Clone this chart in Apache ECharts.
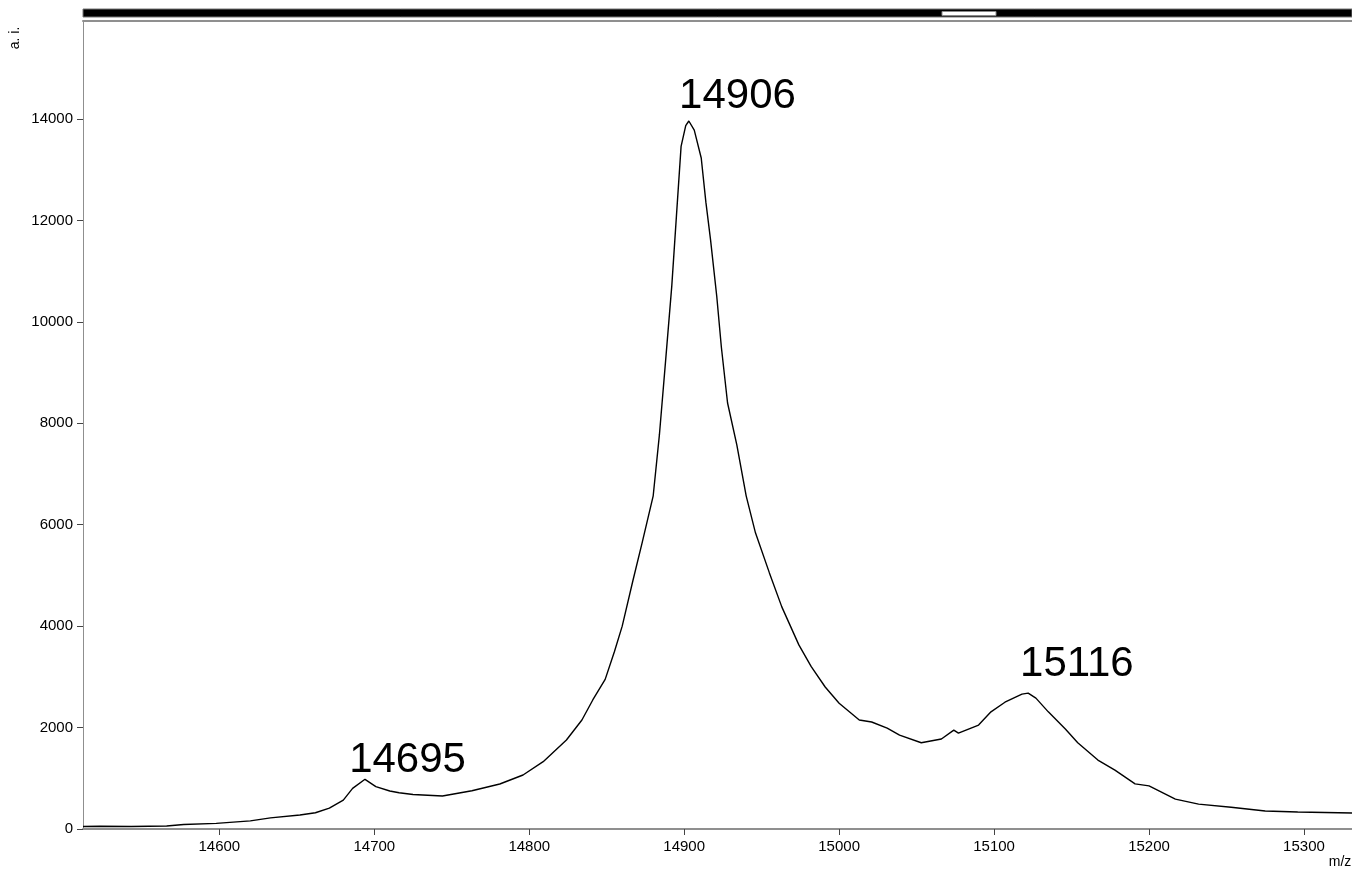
<!DOCTYPE html>
<html>
<head>
<meta charset="utf-8">
<script src="https://cdn.jsdelivr.net/npm/echarts@6/dist/echarts.min.js"></script>
<style>
  html, body { margin: 0; padding: 0; background: #fff; }
  #chart { width: 1352px; height: 873px; }
</style>
</head>
<body>
<div id="chart"></div>
<script>
// spectrum trace (m/z, intensity a.i.)
const mz = [
  14512, 14523, 14543, 14566, 14577, 14598, 14620, 14633, 14652, 14662,
  14671, 14680, 14686, 14694, 14701, 14710, 14716, 14725, 14744, 14763,
  14781, 14796, 14809, 14824, 14834, 14841, 14849, 14855, 14860, 14867,
  14873, 14880, 14884, 14888, 14892, 14895, 14898, 14901, 14903, 14906.5,
  14911, 14914, 14917, 14921, 14924, 14928, 14934, 14940, 14946, 14955,
  14963, 14974, 14982, 14991, 15000, 15013, 15021, 15031, 15039, 15053,
  15066, 15074, 15077, 15090, 15098, 15107, 15118, 15122, 15127, 15135,
  15146, 15154, 15167, 15178, 15191, 15200, 15217, 15232, 15253, 15275,
  15296, 15331
];
const intensity = [
  50, 55, 50, 60, 90, 110, 160, 220, 275, 320,
  410, 570, 800, 980, 835, 750, 715, 680, 650, 755,
  887, 1065, 1327, 1755, 2150, 2544, 2950, 3500, 4000, 4910,
  5660, 6570, 7770, 9230, 10710, 12090, 13460, 13870, 13960, 13780,
  13230, 12360, 11620, 10510, 9500, 8400, 7570, 6570, 5840, 5050,
  4380, 3630, 3200, 2800, 2480, 2150, 2110, 1990, 1850, 1700,
  1775, 1950, 1890, 2050, 2310, 2500, 2660, 2680, 2580, 2310,
  1970, 1700, 1360, 1160, 890, 850, 590, 490, 430, 355,
  335, 315
];

const peakMz = [14695, 14906, 15116];
const peakIntensity = [980, 13960, 2680];
const peakNames = ["14695", "14906", "15116"];

const xTicks = [14600, 14700, 14800, 14900, 15000, 15100, 15200, 15300];
const yTicks = [0, 2000, 4000, 6000, 8000, 10000, 12000, 14000];

const chart = echarts.init(document.getElementById("chart"));

const axisGray = "#8f8f8f";
const font = "Liberation Sans";

const labelOffsets = [[41, 2], [44, -4], [58, -8]];

const option = {
  animation: false,
  backgroundColor: "#fff",
  grid: { left: 83, top: 21, right: -2, bottom: 44 },
  xAxis: [
    {
      type: "value",
      min: 14512,
      max: 15331,
      axisLine: { show: true, lineStyle: { color: axisGray, width: 2 } },
      axisTick: { show: true, length: 6, customValues: xTicks, lineStyle: { color: "#444" } },
      axisLabel: {
        customValues: xTicks,
        margin: 10,
        formatter: (v) => String(v),
        fontFamily: font,
        fontSize: 15,
        color: "#000"
      },
      splitLine: { show: false }
    },
    {
      type: "value",
      position: "top",
      min: 14512,
      max: 15331,
      axisLine: { show: true, lineStyle: { color: axisGray, width: 2 } },
      axisTick: { show: false },
      axisLabel: { show: false },
      splitLine: { show: false }
    }
  ],
  yAxis: {
    type: "value",
    min: 0,
    max: 15932,
    axisLine: { show: true, lineStyle: { color: axisGray, width: 1 } },
    axisTick: { show: true, length: 6, customValues: yTicks, lineStyle: { color: "#444" } },
    axisLabel: {
      customValues: yTicks,
      margin: 10,
      formatter: (v) => String(v),
      fontFamily: font,
      fontSize: 15,
      color: "#000"
    },
    splitLine: { show: false }
  },
  series: [
    {
      name: "spectrum",
      type: "line",
      data: mz.map((m, i) => [m, intensity[i]]),
      showSymbol: false,
      lineStyle: { color: "#000", width: 1.4 },
      z: 3
    },
    {
      name: "peaks",
      type: "scatter",
      symbolSize: 0,
      itemStyle: { color: "#000" },
      data: peakMz.map((m, i) => ({
        value: [m, peakIntensity[i]],
        name: peakNames[i],
        label: { offset: labelOffsets[i], color: "#000" }
      })),
      label: {
        show: true,
        position: "top",
        distance: 0,
        formatter: "{b}",
        fontFamily: font,
        fontSize: 42,
        color: "#000",
        opacity: 1
      },
      z: 4
    }
  ],
  graphic: [
    // overview strip above the plot
    { type: "rect", shape: { x: 83, y: 9, width: 1269, height: 8 }, style: { fill: "#000", stroke: "#777", lineWidth: 1 } },
    { type: "rect", shape: { x: 942, y: 11.5, width: 54, height: 4 }, style: { fill: "#fff", stroke: "#888", lineWidth: 1 } },
    { type: "text", x: 15, y: 38, rotation: Math.PI / 2, style: { text: "a. i.", font: "14px " + font, fill: "#000", align: "center", verticalAlign: "middle" } },
    { type: "text", x: 1340, y: 862, style: { text: "m/z", font: "14px " + font, fill: "#000", align: "center", verticalAlign: "middle" } }
  ]
};

chart.setOption(option);
</script>
</body>
</html>
